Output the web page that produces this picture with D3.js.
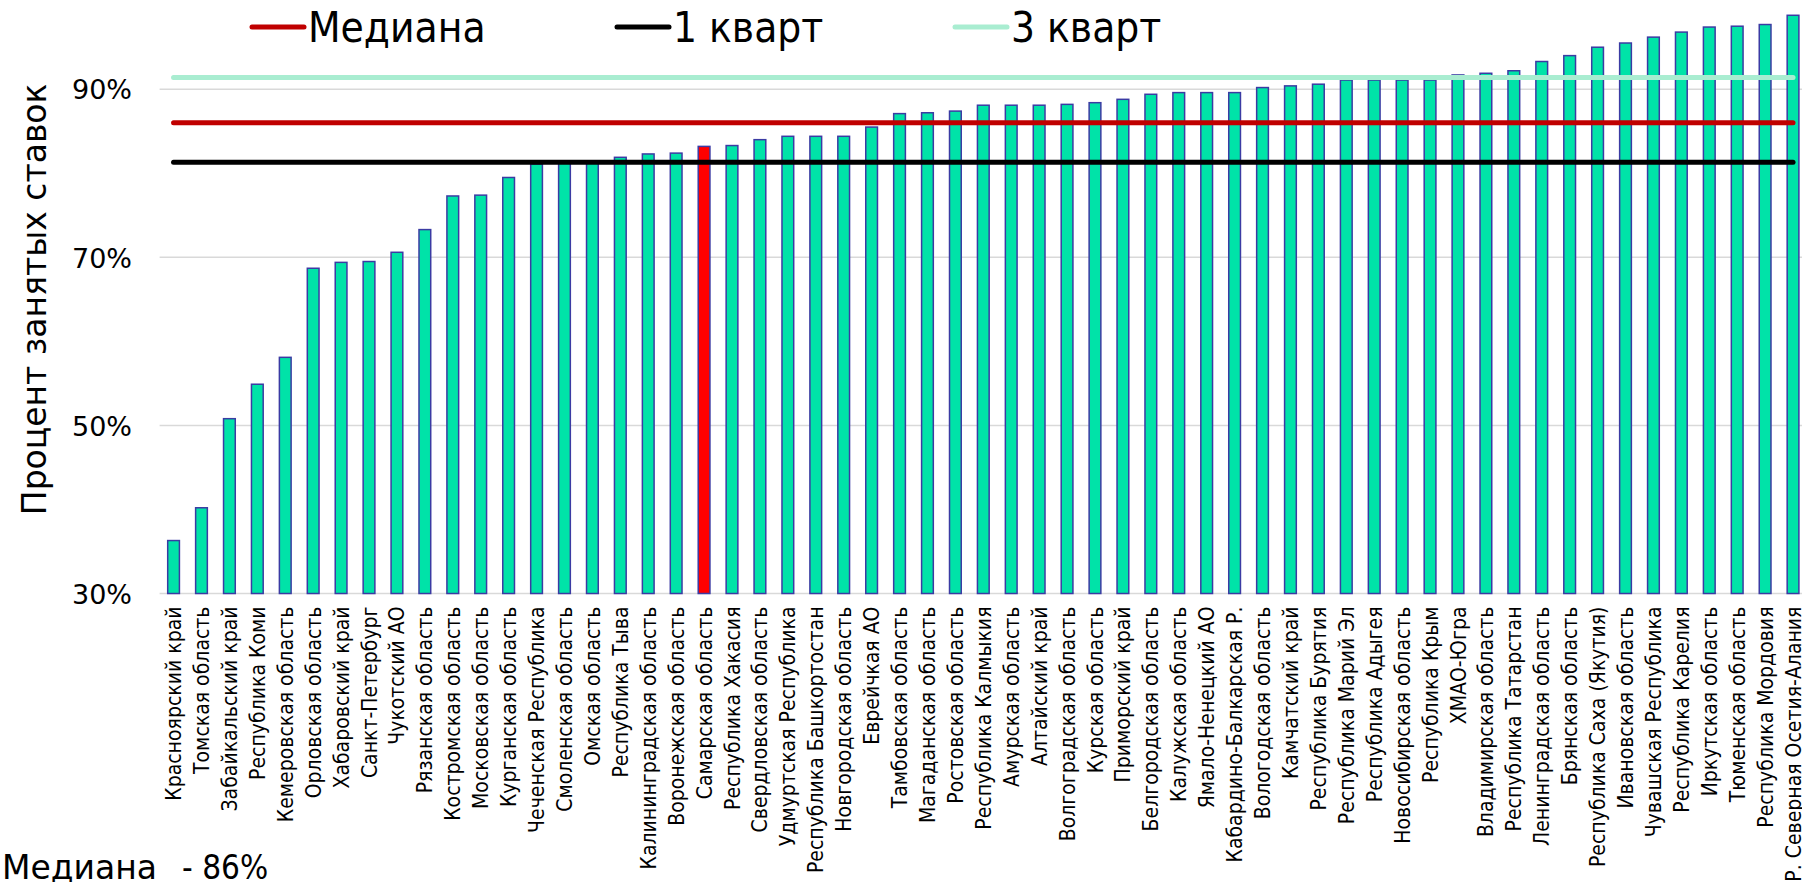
<!DOCTYPE html>
<html>
<head>
<meta charset="utf-8">
<script src="https://cdn.jsdelivr.net/npm/d3@7"></script>
<style>
  html, body { margin: 0; padding: 0; background: #fff; overflow: hidden; }
  svg { display: block; }
  text { font-family: 'DejaVu Sans Condensed', 'DejaVu Sans', sans-serif; font-stretch: condensed; fill: #000; }
  .wide { font-family: 'DejaVu Sans', sans-serif; font-stretch: normal; }
</style>
</head>
<body>
<svg id="chart" width="1802" height="882"></svg>
<script>
const categories = [
  "Красноярский край", "Томская область", "Забайкальский край", "Республика Коми",
  "Кемеровская область", "Орловская область", "Хабаровский  край", "Санкт-Петербург",
  "Чукотский АО", "Рязанская область", "Костромская область", "Московская область",
  "Курганская область", "Чеченская Республика", "Смоленская область", "Омская область",
  "Республика Тыва", "Калининградская область", "Воронежская область", "Самарская область",
  "Республика  Хакасия", "Свердловская область", "Удмуртская Республика", "Республика Башкортостан",
  "Новгородская область", "Еврейчкая АО", "Тамбовская область", "Магаданская область",
  "Ростовская область", "Республика Калмыкия", "Амурская область", "Алтайский край",
  "Волгоградская область", "Курская область", "Приморский край", "Белгородская область",
  "Калужская область", "Ямало-Ненецкий АО", "Кабардино-Балкарская Р.", "Вологодская область",
  "Камчатский край", "Республика Бурятия", "Республика Марий Эл", "Республика Адыгея",
  "Новосибирская область", "Республика Крым", "ХМАО-Югра", "Владимирская область",
  "Республика  Татарстан", "Ленинградская область", "Брянская область", "Республика Саха (Якутия)",
  "Ивановская область", "Чувашская Республика", "Республика Карелия", "Иркутская область",
  "Тюменская область", "Республика Мордовия", "Р. Северная Осетия-Алания"
];
const values = [
  36.3, 40.2, 50.8, 54.9, 58.1, 68.7, 69.4, 69.5, 70.6, 73.3, 77.3, 77.4,
  79.5, 81.1, 81.3, 81.3, 81.9, 82.3, 82.4, 83.2, 83.3, 84.0, 84.4, 84.4,
  84.4, 85.5, 87.1, 87.2, 87.4, 88.1, 88.1, 88.1, 88.2, 88.4, 88.8, 89.4,
  89.6, 89.6, 89.6, 90.2, 90.4, 90.6, 91.1, 91.1, 91.1, 91.1, 91.7, 91.9,
  92.2, 93.3, 94.0, 95.0, 95.5, 96.2, 96.8, 97.4, 97.5, 97.7, 98.8
];
const highlighted = ["Самарская область"];
const yTicks = [30, 50, 70, 90];
const refLines = [
  { name: "Медиана", value: 86.0, color: "#C00000" },
  { name: "1 кварт", value: 81.3, color: "#000000" },
  { name: "3 кварт", value: 91.4, color: "#A9EDD1" }
];
const yTitle = "Процент занятых ставок";
const noteLabel = "Медиана";
const noteValue = "- 86%";

const data = categories.map((c, i) => ({ name: c, value: values[i] }));

const svg = d3.select("#chart");
const plot = { left: 159.6, right: 1807, top: 5.2, bottom: 593.5 };

const x = d3.scaleBand().domain(categories)
  .range([plot.left, plot.right]).paddingInner(0.58).paddingOuter(0.29);
const y = d3.scaleLinear().domain([30, 100]).range([plot.bottom, plot.top]);

// gridlines
svg.append("g").selectAll("line").data(yTicks).join("line")
  .attr("x1", plot.left).attr("x2", 1802)
  .attr("y1", d => y(d)).attr("y2", d => y(d))
  .attr("stroke", "#D9D9D9").attr("stroke-width", 1.5);

// y axis labels
const yAxis = d3.axisLeft(y).tickValues(yTicks).tickFormat(d => d + "%").tickSize(0).tickPadding(0);
const yg = svg.append("g").attr("transform", `translate(132,0)`).call(yAxis);
yg.select(".domain").remove();
yg.selectAll("text").attr("class", "wide").attr("font-size", 27).attr("font-family", null).attr("dy", "0.36em");

// bars
svg.append("g").selectAll("rect").data(data).join("rect")
  .attr("x", d => x(d.name)).attr("width", x.bandwidth())
  .attr("y", d => y(d.value)).attr("height", d => y(30) - y(d.value))
  .attr("fill", d => highlighted.includes(d.name) ? "#FF0000" : "#00E3A8")
  .attr("stroke", "#3B3BA3").attr("stroke-width", 1.5);

// reference lines
const xFirst = x(categories[0]) + x.bandwidth() / 2;
const xLast = x(categories[categories.length - 1]) + x.bandwidth() / 2;
svg.append("g").selectAll("line").data(refLines).join("line")
  .attr("x1", xFirst).attr("x2", xLast)
  .attr("y1", d => y(d.value)).attr("y2", d => y(d.value))
  .attr("stroke", d => d.color).attr("stroke-width", 5).attr("stroke-linecap", "round");

// x axis category labels
const xAxis = d3.axisBottom(x).tickSize(0).tickPadding(0);
const xg = svg.append("g").attr("transform", `translate(0,${plot.bottom})`).call(xAxis);
xg.select(".domain").remove();
xg.selectAll("text")
  .attr("font-size", 21).attr("font-family", null)
  .attr("text-anchor", "end")
  .attr("transform", "rotate(-90)")
  .attr("x", -13).attr("y", 0).attr("dy", "0.36em");

// y title
svg.append("text").attr("class", "wide")
  .attr("transform", `translate(34,${(plot.top + plot.bottom) / 2}) rotate(-90)`)
  .attr("text-anchor", "middle").attr("dy", "0.36em")
  .attr("font-size", 33).text(yTitle);

// legend
const legendPos = [250, 615, 953];
const lg = svg.append("g").selectAll("g").data(refLines).join("g")
  .attr("transform", (d, i) => `translate(${legendPos[i]},27)`);
lg.append("line").attr("x1", 2).attr("x2", 54).attr("y1", 0).attr("y2", 0)
  .attr("stroke", d => d.color).attr("stroke-width", 5).attr("stroke-linecap", "round");
lg.append("text").attr("x", 58).attr("y", 0).attr("dy", "0.36em")
  .attr("font-size", 42).text(d => d.name);

// note at bottom
const note = svg.append("g");
note.append("text").attr("class", "wide").attr("x", 157).attr("y", 879)
  .attr("text-anchor", "end").attr("font-size", 33).text(noteLabel);
note.append("text").attr("x", 182).attr("y", 879)
  .attr("text-anchor", "start").attr("font-size", 33).text(noteValue);
</script>
</body>
</html>
